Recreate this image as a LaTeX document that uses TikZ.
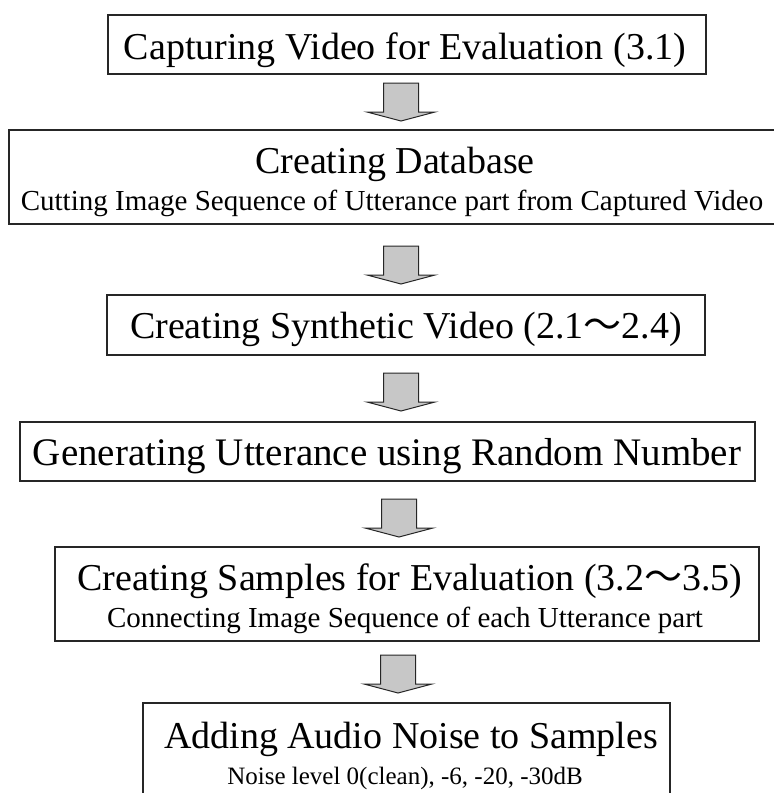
\documentclass[tikz,border=0pt]{standalone}
\usepackage{fontspec}
\setmainfont{Liberation Serif}
\newfontfamily\wavefont{Noto Sans CJK JP}
\newcommand{\wavedash}{{\wavefont 〜}}
\usetikzlibrary{calc}
\begin{document}
\begin{tikzpicture}[x=1pt, y=-1pt,
  stepbox/.style={draw=black!85, line width=1.3pt, inner sep=0pt},
  steptitle/.style={anchor=base, inner sep=0pt, font=\fontsize{38}{38}\selectfont},
  stepnote/.style={anchor=base, inner sep=0pt, font=\fontsize{29}{29}\selectfont},
  downarrow/.pic={\draw[draw=black!85, line width=1pt, fill=black!22, line join=miter]
    (-17.5,0) -- (-17.5,29) -- (-34,29) -- (0,38) -- (34,29) -- (17.5,29) -- (17.5,0) -- cycle;}]
\useasboundingbox (0,0) rectangle (774,793);
\node[stepbox, minimum width=598pt, minimum height=59pt] (capture) at (407,44.5) {};
\node[steptitle] (capturetext) at (405,59) {Capturing Video for Evaluation (3.1)};
\node[stepbox, minimum width=771pt, minimum height=94pt] (database) at (394.5,177) {};
\node[steptitle] (databasetext) at (395,173) {Creating Database};
\node[stepnote] (databasenote) at (392,210) {Cutting Image Sequence of Utterance part from Captured Video};
\node[stepbox, minimum width=598pt, minimum height=60pt] (synth) at (406,325) {};
\node[steptitle] (synthtext) at (406,338) {Creating Synthetic Video (2.1\wavedash2.4)};
\node[stepbox, minimum width=735pt, minimum height=59pt] (utter) at (387.5,451.5) {};
\node[steptitle, font=\fontsize{39}{39}\selectfont] (uttertext) at (387,465) {Generating Utterance using Random Number};
\node[stepbox, minimum width=704pt, minimum height=94pt] (samples) at (407,594) {};
\node[steptitle] (samplestext) at (410,590) {Creating Samples for Evaluation (3.2\wavedash3.5)};
\node[stepnote] (samplesnote) at (405,627) {Connecting Image Sequence of each Utterance part};
\node[stepbox, minimum width=527pt, minimum height=110pt] (noise) at (406.5,758) {};
\node[steptitle] (noisetext) at (411,748) {Adding Audio Noise to Samples};
\node[stepnote, font=\fontsize{25}{25}\selectfont] (noisenote) at (405,784) {Noise level 0(clean), -6, -20, -30dB};
\coordinate (arrow1) at (401,83);
\coordinate (arrow2) at (401,246);
\coordinate (arrow3) at (401,373);
\coordinate (arrow4) at (399,499);
\coordinate (arrow5) at (398,655);
\pic at (arrow1) {downarrow};
\pic at (arrow2) {downarrow};
\pic at (arrow3) {downarrow};
\pic at (arrow4) {downarrow};
\pic at (arrow5) {downarrow};
\end{tikzpicture}
\end{document}
